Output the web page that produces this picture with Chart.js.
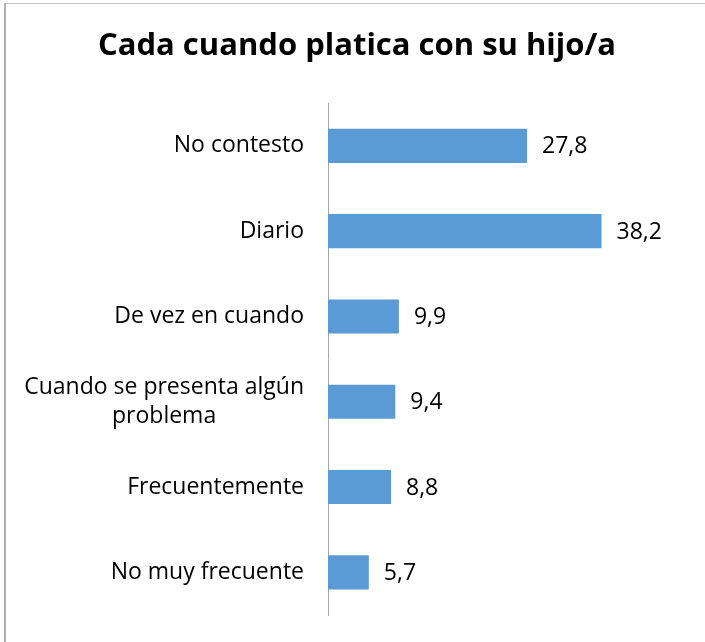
<!DOCTYPE html>
<html><head><meta charset="utf-8">
<script src="https://cdn.jsdelivr.net/npm/chart.js@4/dist/chart.umd.min.js"></script>
<style>
html,body{margin:0;padding:0;background:#fff;}
#wrap{position:absolute;left:0;top:0;width:705px;height:642px;}
#frame{position:absolute;left:4px;top:3px;width:701px;height:639px;border-top:1px solid #c8c8c8;border-left:2px solid #b0b0b0;box-sizing:border-box;pointer-events:none;}
canvas{position:absolute;left:0;top:0;}
</style></head>
<body>
<div id="wrap"><canvas id="c" width="705" height="642"></canvas><div id="frame"></div></div>
<script>
const titleText = 'Cada cuando platica con su hijo/a';
const categories = [
  'No contesto',
  'Diario',
  'De vez en cuando',
  ['Cuando se presenta algún', 'problema'],
  'Frecuentemente',
  'No muy frecuente'
];
const values = [27.8, 38.2, 9.9, 9.4, 8.8, 5.7];
const valueLabels = ['27,8', '38,2', '9,9', '9,4', '8,8', '5,7'];

const FONT = '"Open Sans", Lato, sans-serif';
const LABEL_SIZE = 23;
const LINE_H = 29;

// Draw category labels: block right-aligned to the axis, lines centred within the block (Excel style)
const labelPlugin = {
  id: 'catLabels',
  afterDraw(chart) {
    const ctx = chart.ctx;
    const y = chart.scales.y;
    ctx.save();
    ctx.font = LABEL_SIZE + 'px ' + FONT;
    ctx.fillStyle = '#000';
    ctx.textBaseline = 'middle';
    ctx.textAlign = 'center';
    const right = y.right - 24;
    chart.data.labels.forEach((lab, i) => {
      const lines = Array.isArray(lab) ? lab : [lab];
      const w = Math.max(...lines.map(l => ctx.measureText(l).width));
      const cx = right - w / 2;
      const cy = y.getPixelForTick(i);
      const y0 = cy - (lines.length - 1) * LINE_H / 2;
      lines.forEach((l, k) => ctx.fillText(l, cx, y0 + k * LINE_H));
    });
    ctx.restore();
  }
};

const valuePlugin = {
  id: 'valueLabels',
  afterDatasetsDraw(chart) {
    const ctx = chart.ctx;
    const meta = chart.getDatasetMeta(0);
    ctx.save();
    ctx.font = LABEL_SIZE + 'px ' + FONT;
    ctx.fillStyle = '#000';
    ctx.textBaseline = 'middle';
    ctx.textAlign = 'left';
    meta.data.forEach((bar, i) => {
      ctx.fillText(valueLabels[i], bar.x + 15, bar.y + 1);
    });
    ctx.restore();
  }
};

new Chart(document.getElementById('c'), {
  type: 'bar',
  data: {
    labels: categories,
    datasets: [{
      data: values,
      backgroundColor: '#5B9BD5',
      borderWidth: 0,
      barPercentage: 0.4,
      categoryPercentage: 1.0
    }]
  },
  options: {
    indexAxis: 'y',
    responsive: false,
    animation: false,
    layout: { padding: { left: 28, right: 19, top: 0, bottom: 27 } },
    plugins: {
      legend: { display: false },
      tooltip: { enabled: false },
      title: {
        display: true,
        text: titleText,
        color: '#000',
        font: { family: FONT, size: 31, weight: 'bold' },
        padding: { top: 28, bottom: 38 }
      }
    },
    scales: {
      x: {
        display: false,
        min: 0,
        max: 50
      },
      y: {
        grid: { display: false, drawTicks: false },
        border: { display: true, color: '#a6a6a6', width: 1 },
        ticks: { display: false },
        afterFit(scale) { scale.width = 300; }
      }
    }
  },
  plugins: [valuePlugin, labelPlugin]
});
</script>
</body></html>
